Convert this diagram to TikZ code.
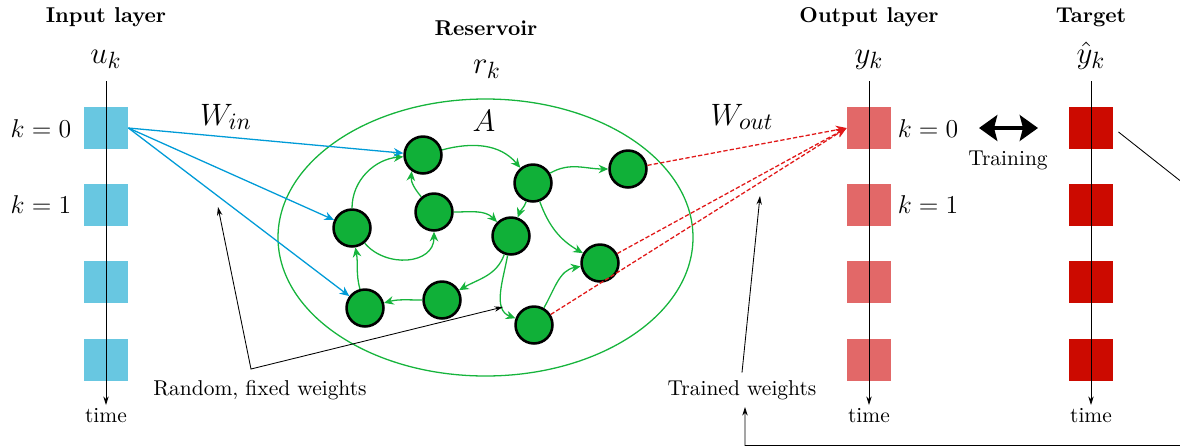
\documentclass[tikz,border=0pt]{standalone}
\usetikzlibrary{arrows.meta}
\definecolor{inblue}{RGB}{104,199,225}
\definecolor{outred}{RGB}{226,104,104}
\definecolor{tgtred}{RGB}{204,10,0}
\definecolor{resgreen}{RGB}{16,176,56}
\definecolor{edgegreen}{RGB}{22,180,60}
\definecolor{wblue}{RGB}{0,155,215}
\definecolor{wred}{RGB}{225,25,25}
\tikzset{
  cell/.style={rectangle,inner sep=0pt,minimum width=20.5pt,minimum height=19.6pt},
  neuron/.style={circle,draw=black,very thick,fill=resgreen,inner sep=0pt,minimum size=17.2pt},
  rlink/.style={semithick,edgegreen,-{Stealth[length=4.5pt,width=4pt]}},
  inlink/.style={semithick,wblue,-{Stealth[length=4.5pt,width=4pt]}},
  outlink/.style={semithick,wred,dash pattern=on 2pt off 1pt,-{Stealth[length=5pt,width=4pt]}},
  timeaxis/.style={-{Stealth[length=4pt,width=2.5pt]}},
  note/.style={-{Stealth[length=4pt,width=2.5pt]}},
  title/.style={font=\bfseries,anchor=base},
  bigmath/.style={font=\fontsize{15}{18}\selectfont,anchor=base},
  klabel/.style={font=\large,anchor=base},
}
\begin{document}
\begin{tikzpicture}[x=0.466pt,y=0.466pt]
  \useasboundingbox (0,0) rectangle (1180,447);
  \foreach \i/\y in {0/319,1/242,2/165,3/87} {
    \node[cell,fill=inblue] (in\i) at (106,\y) {};
    \node[cell,fill=outred] (out\i) at (869,\y) {};
    \node[cell,fill=tgtred] (tg\i) at (1091,\y) {};
  }
  \foreach \n/\x in {in/106,out/869,tg/1091} {
    \coordinate (top\n) at (\x,366);
    \coordinate (end\n) at (\x,42);
    \draw[timeaxis] (top\n) -- (end\n);
    \node[anchor=base] (time\n) at (\x,25) {time};
  }
  \node[title] (intitle) at (106,425) {Input layer};
  \node[title] (outtitle) at (869,425) {Output layer};
  \node[title] (tgtitle) at (1091,425) {Target};
  \node[title] (restitle) at (486,412) {Reservoir};
  \node[bigmath] (uk) at (106,384) {$u_k$};
  \node[bigmath] (yk) at (869,384) {$y_k$};
  \node[bigmath] (yhat) at (1091,384) {$\hat{y}_k$};
  \node[bigmath] (rk) at (487,374) {$r_k$};
  \node[klabel] (kin0) at (41,310) {$k=0$};
  \node[klabel] (kin1) at (41,234) {$k=1$};
  \node[klabel] (kout0) at (928,310) {$k=0$};
  \node[klabel] (kout1) at (928,234) {$k=1$};
  \node[bigmath] (win) at (226,322) {$W_{in}$};
  \node[bigmath] (wout) at (742,322) {$W_{out}$};

  \draw[semithick,edgegreen] (485.5,209.5) ellipse [x radius=207.5, y radius=138.5];
  \node[bigmath] (amat) at (484,316) {$A$};
  \foreach \i/\x/\y in {1/423/292,2/533/264,3/628/278,4/352/219,5/434/235,
                        6/511/211,7/600/184,8/365/139,9/442/147,10/534/122}
    \node[neuron] (r\i) at (\x,\y) {};

  \draw[rlink] (r1) to[out=15,in=130] (r2);
  \draw[rlink] (r4) to[out=90,in=185] (r1);
  \draw[rlink] (r5.130) to[out=130,in=-95] (r1.235);
  \draw[rlink] (r4) to[out=-50,in=-90,looseness=1.2] (r5);
  \draw[rlink] (r5) to[out=0,in=135] (r6);
  \draw[rlink] (r2) to[out=30,in=180] (r3);
  \draw[rlink] (r2) to[out=-110,in=70] (r6);
  \draw[rlink] (r2) to[out=-70,in=150] (r7);
  \draw[rlink] (r6) to[out=-110,in=30] (r9);
  \draw[rlink] (r9) to[out=180,in=15] (r8);
  \draw[rlink] (r8) to[out=105,in=-80] (r4);
  \draw[rlink] (r6) to[out=-100,in=160] (r10);
  \draw[rlink] (r10) to[out=60,in=190] (r7);

  \foreach \r in {1,4,8} \draw[inlink] (in0.east) -- (r\r);
  \foreach \r in {3,7,10} \draw[outlink] (r\r) -- (out0.west);

  \coordinate (trl) at (979,319);
  \coordinate (trr) at (1038,319);
  \draw[line width=2.3pt,{Stealth[length=8.5pt,width=12pt,inset=1.5pt]}-{Stealth[length=8.5pt,width=12pt,inset=1.5pt]}] (trl) -- (trr);
  \node[anchor=base] (train) at (1008,282) {Training};

  \node[anchor=base] (rw) at (260,52) {Random, fixed weights};
  \coordinate (rwc) at (251,78);
  \coordinate (winpt) at (218,240);
  \coordinate (apt) at (503,140);
  \draw[{Stealth[length=4pt,width=2.5pt]}-{Stealth[length=4pt,width=2.5pt]}] (winpt) -- (rwc) -- (apt);

  \node[anchor=base] (tw) at (742,52) {Trained weights};
  \coordinate (woutpt) at (760,251);
  \draw[note] (tw.north) -- (woutpt);
  \coordinate (fbturn) at (1240,219);
  \coordinate (fbbase) at (745,1.5);
  \draw[note,shorten <=3pt] (tg0.east) -- (fbturn) |- (fbbase) -- (fbbase |- tw.south);
\end{tikzpicture}
\end{document}
